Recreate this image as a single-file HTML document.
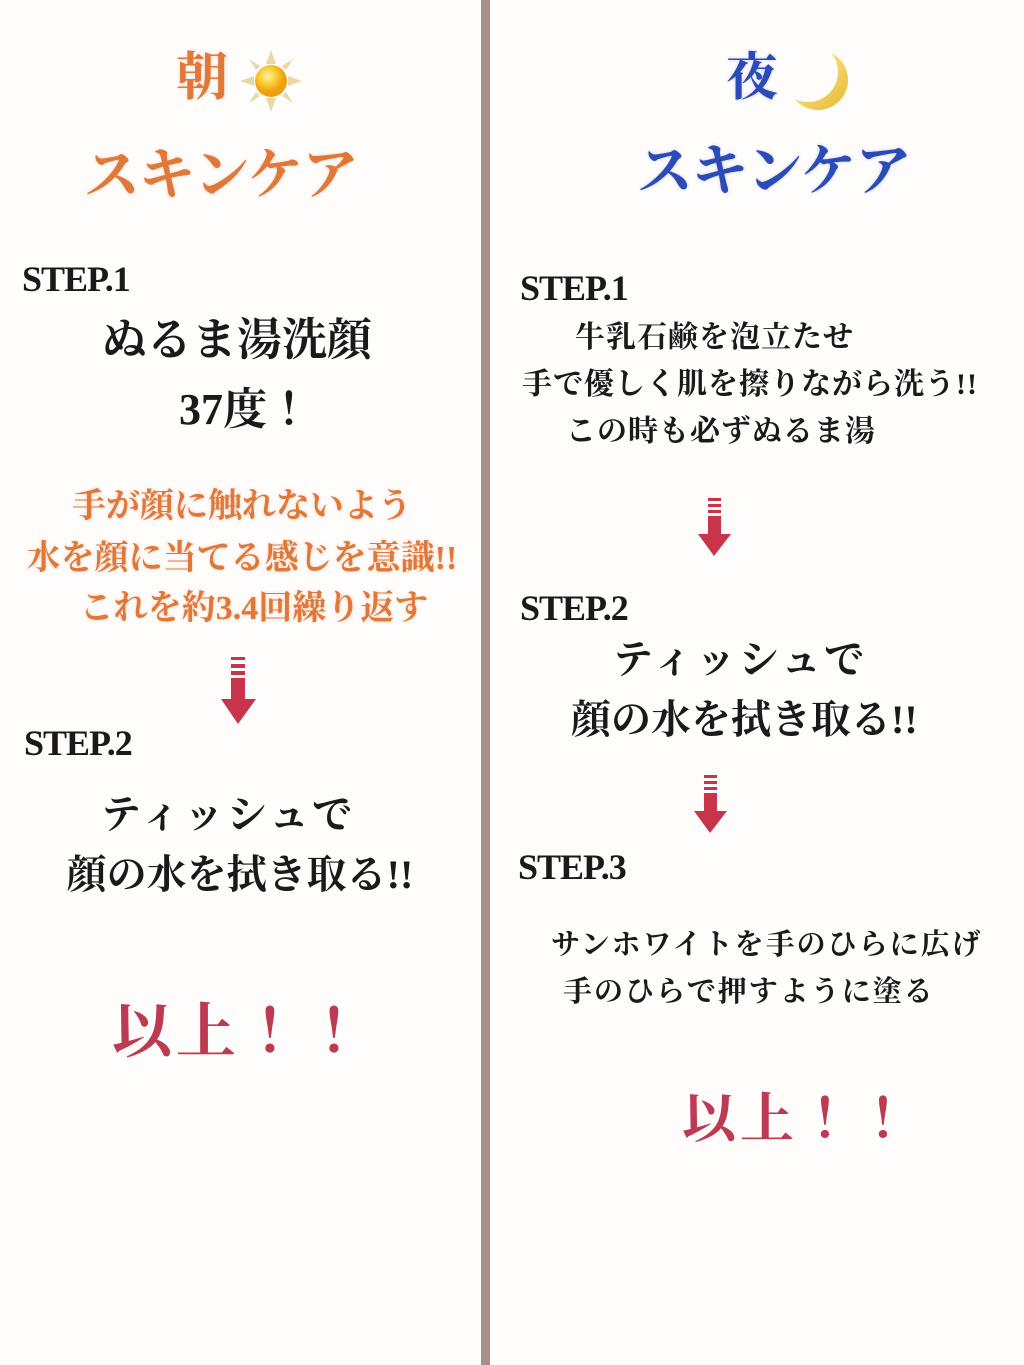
<!DOCTYPE html>
<html><head><meta charset="utf-8"><style>
html,body{margin:0;padding:0}
body{width:1024px;height:1365px;position:relative;background:#fffcfc;overflow:hidden;font-family:"Liberation Serif","Noto Serif CJK JP","Noto Serif CJK SC",serif;color:#1a1a1a}
.t{position:absolute;white-space:nowrap;line-height:1}
.c{transform:translateX(-50%)}
.div{position:absolute;left:481px;top:0;width:9px;height:1365px;background:#a89088}
.or{color:#e0783a;font-weight:bold;text-shadow:0 0 3px rgba(230,140,80,.35)}
.bl{color:#2a4bb8;font-weight:bold;text-shadow:0 0 3px rgba(60,90,200,.3)}
.rd{color:#bd3a52;font-weight:bold}
.step{font-size:36px;font-weight:bold;letter-spacing:-1px}
.b{font-weight:bold}
.arrow{position:absolute}
</style></head><body>
<div class="div"></div>

<!-- left -->
<div class="t or" style="left:176px;top:53px;font-size:52px">朝</div>
<svg style="position:absolute;left:238px;top:48px" width="66" height="66" viewBox="0 0 66 66">
<g fill="#e8d8a8"><polygon points="33,2 38,16 28,16"/><polygon points="33,64 38,50 28,50"/><polygon points="2,33 16,28 16,38"/><polygon points="64,33 50,28 50,38"/><polygon points="11,11 22,18 18,22"/><polygon points="55,11 48,22 44,18"/><polygon points="11,55 18,44 22,48"/><polygon points="55,55 44,48 48,44"/></g>
<defs><radialGradient id="sg" cx="40%" cy="35%"><stop offset="0" stop-color="#fff3a0"/><stop offset=".6" stop-color="#f8c828"/><stop offset="1" stop-color="#eea010"/></radialGradient></defs>
<circle cx="33" cy="33" r="16" fill="url(#sg)"/></svg>
<div class="t or" style="left:84px;top:148px;font-size:56px;letter-spacing:-1px">スキンケア</div>

<div class="t step" style="left:22px;top:261px">STEP.1</div>
<div class="t b" style="left:102px;top:318px;font-size:45px">ぬるま湯洗顔</div>
<div class="t b c" style="left:245px;top:388px;font-size:44px">37度！</div>
<div class="t or c" style="left:242px;top:490px;font-size:34px">手が顔に触れないよう</div>
<div class="t or c" style="left:242px;top:542px;font-size:34px">水を顔に当てる感じを意識!!</div>
<div class="t or c" style="left:254px;top:592px;font-size:34px">これを約3.4回繰り返す</div>
<svg class="arrow" style="left:220px;top:655px" width="38" height="70"><g fill="#c8344a"><rect x="11" y="2" width="14" height="3"/><rect x="11" y="9" width="14" height="4"/><rect x="11" y="16" width="14" height="4"/><rect x="11" y="23" width="14" height="22"/><polygon points="1,44 36,44 18,69"/></g></svg>
<div class="t step" style="left:24px;top:725px">STEP.2</div>
<div class="t b c" style="left:228px;top:795px;font-size:40px;letter-spacing:3px">ティッシュで</div>
<div class="t b c" style="left:240px;top:855px;font-size:40px">顔の水を拭き取る!!</div>
<div class="t rd c" style="left:240px;top:1002px;font-size:60px;letter-spacing:4px">以上！！</div>

<!-- right -->
<div class="t bl" style="left:726px;top:53px;font-size:52px">夜</div>
<svg style="position:absolute;left:782px;top:46px" width="70" height="70" viewBox="0 0 70 70">
<defs><linearGradient id="mg" x1="0" y1="0" x2="1" y2="1"><stop offset="0" stop-color="#fff2b0"/><stop offset="1" stop-color="#e8b830"/></linearGradient>
<mask id="mm"><rect width="70" height="70" fill="#fff"/><circle cx="26" cy="26" r="30" fill="#000"/></mask></defs>
<circle cx="36" cy="34" r="30" fill="url(#mg)" mask="url(#mm)"/></svg>
<div class="t bl" style="left:637px;top:144px;font-size:56px;letter-spacing:-1px">スキンケア</div>

<div class="t step" style="left:520px;top:270px">STEP.1</div>
<div class="t b" style="left:575px;top:323px;font-size:30px;letter-spacing:1px">牛乳石鹸を泡立たせ</div>
<div class="t b" style="left:522px;top:370px;font-size:30px;letter-spacing:1px">手で優しく肌を擦りながら洗う!!</div>
<div class="t b" style="left:566px;top:417px;font-size:30px;letter-spacing:1px">この時も必ずぬるま湯</div>
<svg class="arrow" style="left:696px;top:496px" width="38" height="62"><g fill="#c8344a"><rect x="12" y="2" width="13" height="3"/><rect x="12" y="8" width="13" height="3"/><rect x="12" y="14" width="13" height="3"/><rect x="12" y="20" width="13" height="20"/><polygon points="2,38 35,38 18,60"/></g></svg>
<div class="t step" style="left:520px;top:590px">STEP.2</div>
<div class="t b" style="left:613px;top:640px;font-size:40px;letter-spacing:3px">ティッシュで</div>
<div class="t b" style="left:571px;top:700px;font-size:40px">顔の水を拭き取る!!</div>
<svg class="arrow" style="left:692px;top:773px" width="38" height="62"><g fill="#c8344a"><rect x="12" y="2" width="13" height="3"/><rect x="12" y="8" width="13" height="3"/><rect x="12" y="14" width="13" height="3"/><rect x="12" y="20" width="13" height="20"/><polygon points="2,38 35,38 18,60"/></g></svg>
<div class="t step" style="left:518px;top:849px">STEP.3</div>
<div class="t b" style="left:551px;top:931px;font-size:29px;letter-spacing:2px">サンホワイトを手のひらに広げ</div>
<div class="t b" style="left:563px;top:978px;font-size:29px;letter-spacing:2px">手のひらで押すように塗る</div>
<div class="t rd" style="left:682px;top:1092px;font-size:54px;letter-spacing:4px">以上！！</div>
</body></html>
